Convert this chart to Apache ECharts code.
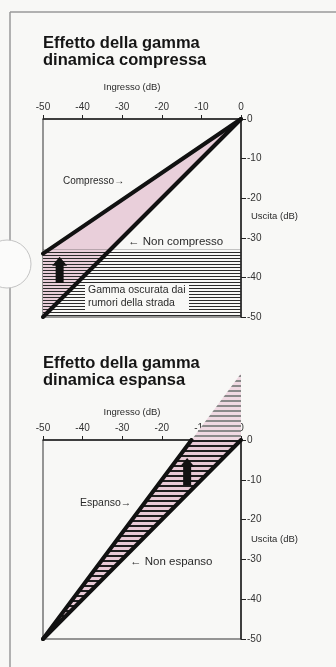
<!DOCTYPE html>
<html>
<head>
<meta charset="utf-8">
<script src="https://cdn.jsdelivr.net/npm/echarts@6/dist/echarts.min.js"></script>
<style>
html,body{margin:0;padding:0;background:#f8f8f6;}
#c{width:336px;height:667px;}
</style>
</head>
<body>
<div id="c"></div>
<script>
// ---- data ----
const axisMin = -50, axisMax = 0, axisStep = 10;
const nonCompresso = [[-50, -50], [0, 0]];
const compresso = [[-50, -34], [0, 0]];
const noiseTop = -33;           // upper limit of range masked by road noise
const arrowComp = [-45.8, -41.4, -34.8]; // x, y from, y to
const nonEspanso = [[-50, -50], [0, 0]];
const espanso = [[-50, -50], [-12.5, 0]];
const espansoOver = [[-12.5, 0], [0, 16.7]]; // continuation above 0 dB
const arrowEsp = [-13.6, -11.4, -4.5];

// ---- patterns ----
function stripe(period, dark, darkColor, bgColor) {
  const c = document.createElement('canvas');
  c.width = 4; c.height = period;
  const g = c.getContext('2d');
  if (bgColor) { g.fillStyle = bgColor; g.fillRect(0, 0, 4, period); }
  g.fillStyle = darkColor; g.fillRect(0, 0, 4, dark);
  return { image: c, repeat: 'repeat' };
}
const noiseHatch = stripe(3, 1, '#2b2b2b', null);
const espHatch = stripe(5, 2, '#1e1e1e', '#e8cad6');
const espHatchLight = stripe(5, 2, '#8a8a8a', '#efd9e2');
const pink = '#e9cfda';

const FONT = 'Liberation Sans, Arial, sans-serif';

function polySeries(grid, pts, fill, z) {
  return {
    type: 'custom', xAxisIndex: grid, yAxisIndex: grid, z: z || 1,
    clip: false, silent: true,
    data: [0],
    renderItem: function (params, api) {
      return { type: 'polygon', shape: { points: pts.map(p => api.coord(p)) }, style: { fill: fill } };
    }
  };
}
function arrowSeries(grid, a) {
  return {
    type: 'custom', xAxisIndex: grid, yAxisIndex: grid, z: 6, silent: true,
    data: [a],
    renderItem: function (params, api) {
      const b = api.coord([api.value(0), api.value(1)]);
      const t = api.coord([api.value(0), api.value(2)]);
      const hw = 7.5, sw = 4, hh = 9;
      const x = b[0];
      return {
        type: 'polygon',
        shape: { points: [[x - sw, b[1]], [x - sw, t[1] + hh], [x - hw, t[1] + hh], [x, t[1]], [x + hw, t[1] + hh], [x + sw, t[1] + hh], [x + sw, b[1]]] },
        style: { fill: '#111' }
      };
    }
  };
}
function lineSeries(grid, data) {
  return {
    type: 'line', xAxisIndex: grid, yAxisIndex: grid, data: data, symbol: 'none', z: 5,
    lineStyle: { color: '#111', width: 4, cap: 'round' }, silent: true, animation: false
  };
}
function xAx(grid) {
  return {
    gridIndex: grid, type: 'value', position: 'top', min: axisMin, max: axisMax, interval: axisStep,
    axisLine: { show: true, lineStyle: { color: '#222', width: 1.5 } },
    axisTick: { show: true, length: 4, lineStyle: { color: '#222', width: 1 } },
    axisLabel: { fontSize: 10, color: '#333', margin: 7, fontFamily: FONT },
    splitLine: { show: false }
  };
}
function yAx(grid) {
  return {
    gridIndex: grid, type: 'value', position: 'right', min: axisMin, max: axisMax, interval: axisStep,
    axisLine: { show: true, lineStyle: { color: '#222', width: 1.5 } },
    axisTick: { show: true, length: 5, lineStyle: { color: '#222', width: 1 } },
    axisLabel: { fontSize: 10, color: '#333', margin: 6, fontFamily: FONT },
    splitLine: { show: false }
  };
}
function txt(x, y, s, o) {
  return Object.assign({ type: 'text', x: x, y: y, z: 50, style: Object.assign({ text: s, fill: '#2a2a2a', font: '10px ' + FONT, textVerticalAlign: 'middle' }, o || {}) });
}

const chart = echarts.init(document.getElementById('c'), null, { renderer: 'canvas' });
chart.setOption({
  backgroundColor: '#f8f8f6',
  animation: false,
  grid: [
    { left: 43, top: 119, width: 198, height: 198, show: true, borderColor: '#333', borderWidth: 1, backgroundColor: 'transparent' },
    { left: 43, top: 440, width: 198, height: 199, show: true, borderColor: '#333', borderWidth: 1, backgroundColor: 'transparent' }
  ],
  xAxis: [xAx(0), xAx(1)],
  yAxis: [yAx(0), yAx(1)],
  series: [
    polySeries(0, [compresso[0], compresso[1], nonCompresso[0]], pink, 1),
    polySeries(0, [[axisMin, axisMin], [axisMax, axisMin], [axisMax, noiseTop], [axisMin, noiseTop]], noiseHatch, 2),
    lineSeries(0, nonCompresso),
    lineSeries(0, compresso),
    arrowSeries(0, arrowComp),
    polySeries(1, [espanso[0], espanso[1], nonEspanso[1]], espHatch, 1),
    polySeries(1, [espansoOver[0], espansoOver[1], nonEspanso[1]], espHatchLight, 1),
    lineSeries(1, nonEspanso),
    lineSeries(1, espanso),
    arrowSeries(1, arrowEsp)
  ],
  graphic: [
    { type: 'line', z: 40, shape: { x1: 10, y1: 12, x2: 336, y2: 12 }, style: { stroke: '#9a9a9a', lineWidth: 1.5 } },
    { type: 'line', z: 40, shape: { x1: 10, y1: 12, x2: 10, y2: 667 }, style: { stroke: '#9a9a9a', lineWidth: 1.5 } },
    { type: 'circle', z: 41, shape: { cx: 7, cy: 264, r: 24 }, style: { fill: '#fbfbfa', stroke: '#c4c4c4', lineWidth: 1 } },
    { type: 'rect', z: 45, shape: { x: 85, y: 283, width: 104, height: 28 }, style: { fill: '#f8f8f6' } },
    txt(43, 52, 'Effetto della gamma\ndinamica compressa', { font: 'bold 16.5px ' + FONT, fill: '#151515', lineHeight: 17 }),
    txt(132, 87, 'Ingresso (dB)', { textAlign: 'center', font: '9.5px ' + FONT }),
    txt(251, 216, 'Uscita (dB)', { font: '9.5px ' + FONT }),
    txt(63, 181, 'Compresso→', { font: '10px ' + FONT }),
    txt(128, 242, '← Non compresso', { font: '11.5px ' + FONT }),
    txt(88, 297, 'Gamma oscurata dai\nrumori della strada', { font: '10.5px ' + FONT, lineHeight: 13 }),
    txt(43, 372, 'Effetto della gamma\ndinamica espansa', { font: 'bold 16.5px ' + FONT, fill: '#151515', lineHeight: 17 }),
    txt(132, 412, 'Ingresso (dB)', { textAlign: 'center', font: '9.5px ' + FONT }),
    txt(251, 539, 'Uscita (dB)', { font: '9.5px ' + FONT }),
    txt(80, 503, 'Espanso→', { font: '10.5px ' + FONT }),
    txt(130, 562, '← Non espanso', { font: '11.5px ' + FONT })
  ]
});
</script>
</body>
</html>
